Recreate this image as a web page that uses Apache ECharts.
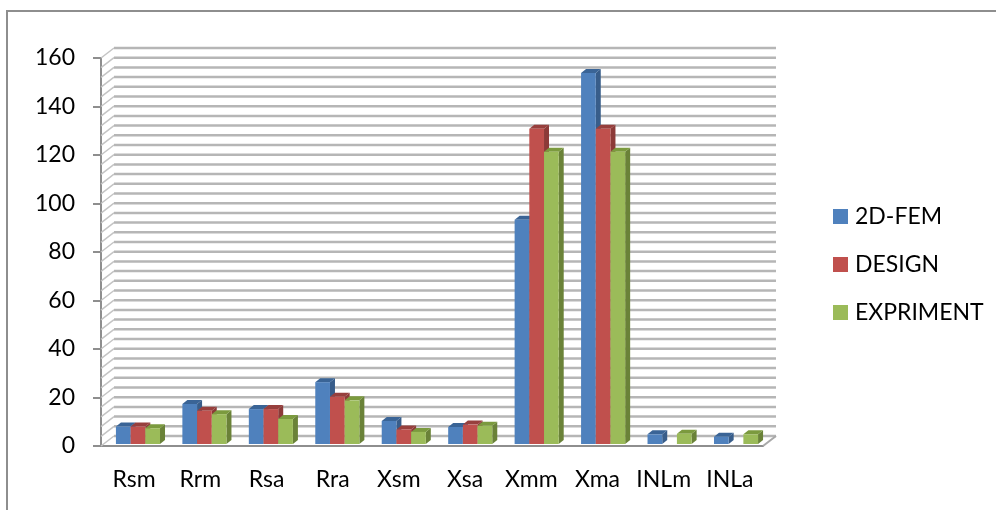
<!DOCTYPE html>
<html>
<head>
<meta charset="utf-8">
<style>
  html, body { margin: 0; padding: 0; background: #fff; }
  #chart { width: 996px; height: 510px; }
</style>
<script src="https://cdn.jsdelivr.net/npm/echarts@6/dist/echarts.min.js"></script>
</head>
<body>
<div id="chart"></div>
<script>
const categories = ["Rsm", "Rrm", "Rsa", "Rra", "Xsm", "Xsa", "Xmm", "Xma", "INLm", "INLa"];
const fem = [7.2, 16.5, 14.4, 25.5, 9.5, 7, 92.5, 153, 4, 3];
const design = [7.2, 13.7, 14.4, 19.5, 6, 8, 130, 130, null, null];
const expriment = [6.5, 12.3, 10.3, 18, 5, 7.5, 120.5, 120.5, 4.2, 4];
const wallLines = [0, 4, 8, 12, 16, 20, 24, 28, 32, 36, 40, 44, 48, 52, 56, 60, 64, 68, 72, 76, 80,
  84, 88, 92, 96, 100, 104, 108, 112, 116, 120, 124, 128, 132, 136, 140, 144, 148, 152, 156, 160];

const FONT = "Lato";
const AXIS = "#8e8e8e";
// décalages de la perspective, en pixels
const WALL_DX = 13, WALL_DY = -10;
const BAR_DX = 4, BAR_DY = -2;
const DEPTH_DX = 5, DEPTH_DY = -4;
const BAR_DRIFT = 0.25; // les barres s'écartent un peu des graduations vers la droite

// lignes du mur du fond : diagonale depuis l'axe puis horizontale
function renderWall(params, api) {
  const v = api.value(0);
  const left = api.coord([0, v]);
  const right = api.coord([categories.length - 1, v]);
  const band = api.size([1, 0])[0];
  const x0 = left[0] - band / 2, x1 = right[0] + band / 2, y = left[1];
  const children = [
    { type: "polyline", shape: { points: [[x0, y], [x0 + WALL_DX, y + WALL_DY]] },
      style: { stroke: "#c4c4c4", lineWidth: 1.5, fill: null } },
    { type: "polyline", shape: { points: [[x0 + WALL_DX, y + WALL_DY], [x1 + WALL_DX, y + WALL_DY]] },
      style: { stroke: "#b6b6b6", lineWidth: 2.5, fill: null } }
  ];
  if (v === 0) {
    children.push({ type: "polyline", shape: { points: [[x1, y], [x1 + WALL_DX, y + WALL_DY]] },
      style: { stroke: "#a8a8a8", lineWidth: 2, fill: null } });
  }
  return { type: "group", children };
}

// barre 3D : face avant, dessus et côté droit
function barRenderer(slot, front, top, side) {
  return function (params, api) {
    const val = api.value(1);
    if (val == null || isNaN(val)) return null;
    const pTop = api.coord([api.value(0), val]);
    const pBase = api.coord([api.value(0), 0]);
    const band = api.size([1, 0])[0];
    const w = band * 0.222;
    const x = pTop[0] - band / 2 + band * 0.165 + slot * w + BAR_DX + api.value(0) * BAR_DRIFT;
    const yT = pTop[1] + BAR_DY, yB = pBase[1] + BAR_DY;
    return {
      type: "group",
      children: [
        { type: "polygon", shape: { points: [[x + w, yT], [x + w + DEPTH_DX, yT + DEPTH_DY], [x + w + DEPTH_DX, yB + DEPTH_DY], [x + w, yB]] },
          style: { fill: side } },
        { type: "polygon", shape: { points: [[x, yT], [x + DEPTH_DX, yT + DEPTH_DY], [x + w + DEPTH_DX, yT + DEPTH_DY], [x + w, yT]] },
          style: { fill: top } },
        { type: "rect", shape: { x: x, y: yT, width: w, height: yB - yT },
          style: { fill: front } }
      ]
    };
  };
}

function barSeries(name, values, slot, front, top, side) {
  return {
    name: name,
    type: "custom",
    clip: false,
    z: 3,
    itemStyle: { color: front },
    encode: { x: 0, y: 1 },
    data: values.map((v, i) => [i, v]),
    renderItem: barRenderer(slot, front, top, side)
  };
}

const chart = echarts.init(document.getElementById("chart"));
chart.setOption({
  animation: false,
  backgroundColor: "#ffffff",
  graphic: [{
    type: "rect",
    shape: { x: 7, y: 11, width: 1200, height: 800 },
    style: { fill: null, stroke: AXIS, lineWidth: 2 },
    silent: true
  }],
  grid: { left: 101, right: 233, top: 58, bottom: 64 },
  legend: {
    orient: "vertical",
    left: 833,
    top: 205,
    padding: 0,
    itemWidth: 15,
    itemHeight: 15,
    itemGap: 25,
    icon: "rect",
    textStyle: { fontFamily: FONT, fontSize: 23, color: "#000", padding: [0, 0, 0, 2] },
    data: ["2D-FEM", "DESIGN", "EXPRIMENT"]
  },
  xAxis: {
    type: "category",
    data: categories,
    axisLine: { lineStyle: { color: AXIS, width: 2 } },
    axisTick: { alignWithLabel: false, length: 8, lineStyle: { color: AXIS, width: 2 } },
    axisLabel: { fontFamily: FONT, fontSize: 23, color: "#000", margin: 22, interval: 0 },
    splitLine: { show: false }
  },
  yAxis: {
    type: "value",
    min: 0,
    max: 160,
    interval: 20,
    axisLine: { show: true, lineStyle: { color: AXIS, width: 2 } },
    axisTick: { show: true, length: 8, lineStyle: { color: AXIS, width: 2 } },
    axisLabel: { fontFamily: FONT, fontSize: 23, color: "#000", margin: 26 },
    splitLine: { show: false }
  },
  series: [
    {
      name: "wall",
      type: "custom",
      clip: false,
      z: 1,
      silent: true,
      encode: { y: 0 },
      data: wallLines.map(v => [v]),
      renderItem: renderWall
    },
    barSeries("2D-FEM", fem, 0, "#4f81bd", "#3a6496", "#385d8a"),
    barSeries("DESIGN", design, 1, "#c0504d", "#973f3d", "#8c3a38"),
    barSeries("EXPRIMENT", expriment, 2, "#9bbb59", "#7b9a3e", "#6a8238")
  ]
});
</script>
</body>
</html>
